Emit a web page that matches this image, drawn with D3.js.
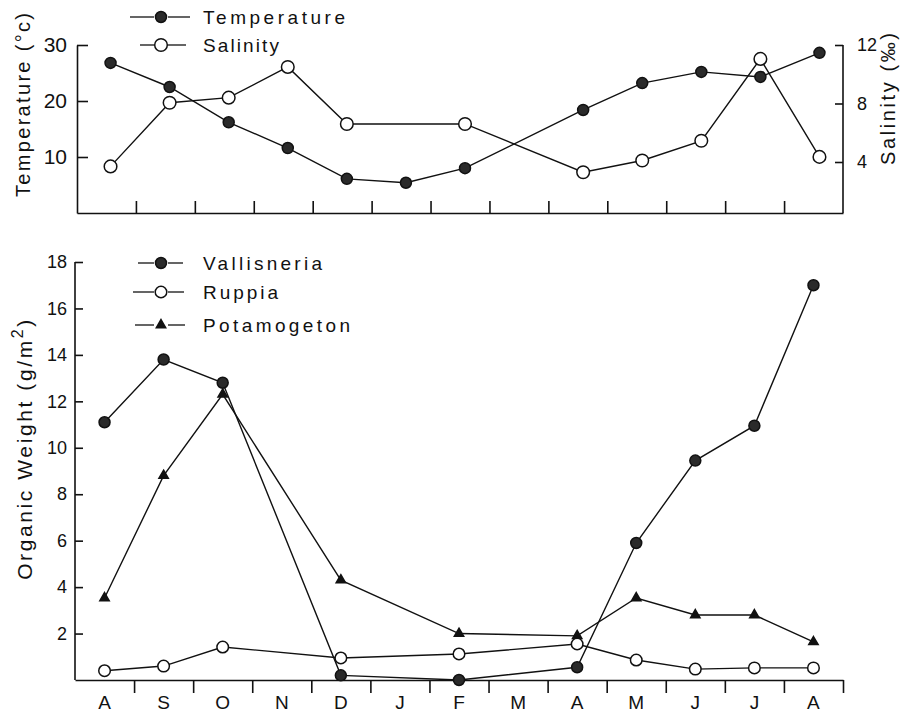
<!DOCTYPE html>
<html>
<head>
<meta charset="utf-8">
<script src="https://cdn.jsdelivr.net/npm/d3@7"></script>
<style>
  body { margin: 0; background: #fff; }
  svg text { font-family: "Liberation Sans", "DejaVu Sans", sans-serif; fill: #111; }
</style>
</head>
<body>
<div id="chart"></div>
<script>
// month sequence, Aug .. Aug
const months = ["A", "S", "O", "N", "D", "J", "F", "M", "A", "M", "J", "J", "A"];

// top panel
const temperature = [26.8, 22.5, 16.2, 11.6, 6.1, 5.4, 8.0, null, 18.4, 23.2, 25.2, 24.3, 28.6];
const salinity    = [3.7, 8.05, 8.4, 10.5, 6.6, null, 6.6, null, 3.3, 4.1, 5.45, 11.05, 4.35];
const tempTicks = [10, 20, 30];
const salTicks = [4, 8, 12];

// bottom panel, organic weight g/m2
const vallisneria = [11.1, 13.8, 12.8, null, 0.2, null, 0, null, 0.55, 5.9, 9.45, 10.95, 17.0];
const ruppia      = [0.4, 0.6, 1.42, null, 0.95, null, 1.12, null, 1.55, 0.86, 0.47, 0.52, 0.52];
const potamogeton = [3.53, 8.8, 12.3, null, 4.3, null, 2.0, null, 1.9, 3.53, 2.8, 2.8, 1.64];
const weightTicks = [2, 4, 6, 8, 10, 12, 14, 16, 18];

function drawChart(divId) {
    const width = 900, height = 715;

    const svg = d3.select(`#${divId}`)
      .append("svg")
        .attr("width", width)
        .attr("height", height);

    const x = d3.scaleBand().domain(d3.range(months.length)).range([75, 843]);
    const xEdge = d3.scaleLinear().domain([0, months.length]).range([75, 843]);
    const cx = i => x(i) + x.bandwidth() / 2;

    const tempY = d3.scaleLinear().domain([0, 30]).range([213, 45]);
    const salY = d3.scaleLinear().domain([0, 12]).range([220.5, 45]);
    const orgY = d3.scaleLinear().domain([0, 18]).range([680, 262]);

    const strokeAxis = g => g.selectAll("path, line").attr("stroke", "#111").attr("stroke-width", 1.6);

    // ---------- top panel axes ----------
    svg.append("g")
        .attr("transform", "translate(77,0)")
        .call(d3.axisLeft(tempY).tickValues(tempTicks).tickSize(-11).tickSizeOuter(0).tickPadding(10))
        .call(strokeAxis)
        .call(g => g.selectAll("text").style("font-size", "21px"));

    svg.append("g")
        .attr("transform", "translate(843,0)")
        .call(d3.axisRight(salY).tickValues(salTicks).tickSize(-8).tickPadding(14))
        .call(g => g.select(".domain").remove())
        .call(strokeAxis)
        .call(g => g.selectAll("text").style("font-size", "18px"));

    svg.append("line")
        .attr("x1", 843).attr("x2", 843)
        .attr("y1", tempY(0)).attr("y2", tempY(30))
        .attr("stroke", "#111").attr("stroke-width", 1.6);

    svg.append("g")
        .attr("transform", `translate(0,${tempY(0)})`)
        .call(d3.axisTop(xEdge.copy().range([77, 843])).tickValues(d3.range(1, months.length)).tickSize(12).tickSizeOuter(0).tickFormat(""))
        .call(strokeAxis);

    svg.append("text")
        .attr("transform", `translate(30,${(13 + 197) / 2}) rotate(-90)`)
        .attr("text-anchor", "middle")
        .attr("textLength", 184).attr("lengthAdjust", "spacing")
        .style("font-size", "20px")
        .text("Temperature (°c)");

    svg.append("text")
        .attr("transform", `translate(895,${(33 + 165) / 2}) rotate(-90)`)
        .attr("text-anchor", "middle")
        .attr("textLength", 132).attr("lengthAdjust", "spacing")
        .style("font-size", "20px")
        .text("Salinity (‰)");

    // ---------- bottom panel axes ----------
    svg.append("g")
        .attr("transform", "translate(75,0)")
        .call(d3.axisLeft(orgY).tickValues(weightTicks).tickSize(-8).tickSizeOuter(0).tickPadding(8))
        .call(g => g.select(".domain").attr("d", `M0,${orgY(18)}V${orgY(0)}`))
        .call(strokeAxis)
        .call(g => g.selectAll("text").style("font-size", "18px"));

    svg.append("g")
        .attr("transform", `translate(0,${orgY(0)})`)
        .call(d3.axisBottom(xEdge).tickValues(d3.range(1, months.length + 1)).tickSize(13).tickSizeOuter(0).tickFormat(""))
        .call(strokeAxis);

    svg.append("g")
        .attr("transform", `translate(0,${orgY(0)})`)
        .call(d3.axisBottom(x).tickSize(0).tickPadding(16).tickFormat(i => months[i]))
        .call(g => g.select(".domain").remove())
        .call(g => g.selectAll("text").style("font-size", "19px"));

    const orgLabel = svg.append("text")
        .attr("transform", `translate(32,${(577 + 320) / 2}) rotate(-90)`)
        .attr("text-anchor", "middle")
        .style("font-size", "21px")
        .style("letter-spacing", "2.6px");
    orgLabel.append("tspan").text("Organic Weight (g/m");
    orgLabel.append("tspan").attr("dy", -9).style("font-size", "16px").text("2");
    orgLabel.append("tspan").attr("dy", 9).text(")");

    // ---------- series ----------
    function drawSeries(values, y, marker, dx) {
        const pts = values.map((v, i) => [i, v]).filter(d => d[1] !== null);
        const line = d3.line().x(d => cx(d[0]) + dx).y(d => y(d[1]));

        svg.append("path")
            .datum(pts)
            .attr("d", line)
            .attr("fill", "none")
            .attr("stroke", "#111")
            .attr("stroke-width", 1.4);

        svg.append("g").selectAll("path")
          .data(pts)
          .join("path")
            .attr("transform", d => `translate(${cx(d[0]) + dx},${y(d[1])})`)
            .attr("d", marker.shape)
            .attr("fill", marker.fill)
            .attr("stroke", "#111")
            .attr("stroke-width", 1.5);
    }

    const filled = { shape: d3.symbol(d3.symbolCircle, 95)(), fill: "#2a2a2a" };
    const open = { shape: d3.symbol(d3.symbolCircle, 125)(), fill: "#fff" };
    const openSmall = { shape: d3.symbol(d3.symbolCircle, 105)(), fill: "#fff" };
    const tri = { shape: d3.symbol(d3.symbolTriangle, 38)(), fill: "#111" };

    drawSeries(temperature, tempY, filled, 6);
    drawSeries(salinity, salY, open, 6);
    drawSeries(potamogeton, orgY, tri, 0);
    drawSeries(ruppia, orgY, openSmall, 0);
    drawSeries(vallisneria, orgY, filled, 0);

    // ---------- legends ----------
    const legends = [
        { name: "Temperature", marker: filled, y: 17, len: 142, seg: [130, 190] },
        { name: "Salinity", marker: open, y: 45, len: 76, seg: [140, 186] },
        { name: "Vallisneria", marker: filled, y: 263, len: 119, seg: [138, 183] },
        { name: "Ruppia", marker: openSmall, y: 292, len: 75, seg: [133, 184] },
        { name: "Potamogeton", marker: tri, y: 325, len: 147, seg: [135, 185] }
    ];

    legends.forEach(l => {
        const g = svg.append("g");
        const mid = 161;
        g.append("line")
            .attr("x1", l.seg[0]).attr("x2", mid - 7)
            .attr("y1", l.y).attr("y2", l.y)
            .attr("stroke", "#111").attr("stroke-width", 1.3);
        g.append("line")
            .attr("x1", mid + 7).attr("x2", l.seg[1])
            .attr("y1", l.y).attr("y2", l.y)
            .attr("stroke", "#111").attr("stroke-width", 1.3);
        g.append("path")
            .attr("transform", `translate(${mid},${l.y})`)
            .attr("d", l.marker.shape)
            .attr("fill", l.marker.fill)
            .attr("stroke", "#111")
            .attr("stroke-width", 1.5);
        g.append("text")
            .attr("x", 203).attr("y", l.y + 7)
            .attr("textLength", l.len).attr("lengthAdjust", "spacing")
            .style("font-size", "19px")
            .text(l.name);
    });
}

drawChart("chart");
</script>
</body>
</html>
